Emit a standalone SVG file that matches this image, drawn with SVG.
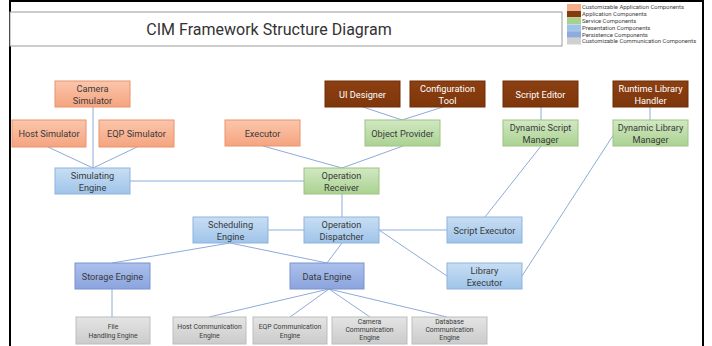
<svg xmlns="http://www.w3.org/2000/svg" width="712" height="346" viewBox="0 0 712 346">
<defs>
<linearGradient id="gOr" x1="0" y1="0" x2="0" y2="1"><stop offset="0" stop-color="#fbc6ab"/><stop offset="1" stop-color="#f5a47f"/></linearGradient>
<linearGradient id="gBr" x1="0" y1="0" x2="0" y2="1"><stop offset="0" stop-color="#8c4012"/><stop offset="1" stop-color="#7e360b"/></linearGradient>
<linearGradient id="gGr" x1="0" y1="0" x2="0" y2="1"><stop offset="0" stop-color="#d2e8c3"/><stop offset="1" stop-color="#aad291"/></linearGradient>
<linearGradient id="gLb" x1="0" y1="0" x2="0" y2="1"><stop offset="0" stop-color="#c8def3"/><stop offset="1" stop-color="#9fc4ea"/></linearGradient>
<linearGradient id="gPb" x1="0" y1="0" x2="0" y2="1"><stop offset="0" stop-color="#acc0ec"/><stop offset="1" stop-color="#8ba4de"/></linearGradient>
<linearGradient id="gGy" x1="0" y1="0" x2="0" y2="1"><stop offset="0" stop-color="#e4e4e4"/><stop offset="1" stop-color="#cbcbcb"/></linearGradient>
</defs>
<style>
text{font-family:Roboto,"Open Sans",sans-serif;fill:#3a3a3a;text-anchor:middle}
.t{font-size:9.2px}
.s{font-size:6.8px}
.w{fill:#ffffff}
.lg{font-size:5.9px;text-anchor:start;fill:#404040}
.or{fill:url(#gOr);stroke:#e8946c;stroke-width:1}
.br{fill:url(#gBr);stroke:#6e2c07;stroke-width:1}
.gr{fill:url(#gGr);stroke:#9cc482;stroke-width:1}
.lb{fill:url(#gLb);stroke:#8db3dd;stroke-width:1}
.pb{fill:url(#gPb);stroke:#7b93cd;stroke-width:1}
.gy{fill:url(#gGy);stroke:#bdbdbd;stroke-width:1}
#connectors line{stroke:#8eaadb;stroke-width:1}
</style>
<rect x="0" y="0" width="712" height="346" fill="#ffffff"/>
<rect x="10" y="1" width="693" height="360" fill="#ffffff" stroke="#000000" stroke-width="2"/>
<g id="title">
<rect x="10" y="12" width="552" height="34" fill="#ffffff" stroke="#9a9a9a" stroke-width="1"/>
<text x="269" y="35" style="font-size:16px;fill:#333">CIM Framework Structure Diagram</text>
</g>
<g id="legend">
<rect x="567" y="4" width="14" height="6.5" fill="#f7ad8a"/>
<rect x="567" y="10.8" width="14" height="6.5" fill="#843c0c"/>
<rect x="567" y="17.6" width="14" height="6.5" fill="#a9d18e"/>
<rect x="567" y="24.4" width="14" height="6.5" fill="#9dc3e6"/>
<rect x="567" y="31.2" width="14" height="6.5" fill="#8faadc"/>
<rect x="567" y="38" width="14" height="6.5" fill="#d0d0d0"/>
<text class="lg" x="582" y="9.3">Customizable Application Components</text>
<text class="lg" x="582" y="16.1">Application Components</text>
<text class="lg" x="582" y="22.9">Service Components</text>
<text class="lg" x="582" y="29.7">Presentation Components</text>
<text class="lg" x="582" y="36.5">Persistence Components</text>
<text class="lg" x="582" y="43.3">Customizable Communication Components</text>
</g>
<g id="connectors">
<line x1="93" y1="107" x2="93" y2="168"/>
<line x1="48" y1="147" x2="93" y2="168"/>
<line x1="137" y1="147" x2="93" y2="168"/>
<line x1="130" y1="181" x2="304" y2="181"/>
<line x1="263" y1="146" x2="342" y2="168"/>
<line x1="403" y1="146" x2="342" y2="168"/>
<line x1="363" y1="107" x2="402" y2="120"/>
<line x1="443" y1="107" x2="402" y2="120"/>
<line x1="541" y1="107" x2="541" y2="120"/>
<line x1="650" y1="107" x2="650" y2="120"/>
<line x1="342" y1="194" x2="342" y2="217"/>
<line x1="268" y1="230" x2="304" y2="230"/>
<line x1="379" y1="230" x2="447" y2="230"/>
<line x1="379" y1="230" x2="447" y2="276"/>
<line x1="541" y1="146" x2="485" y2="217"/>
<line x1="614" y1="134" x2="522" y2="276"/>
<line x1="230" y1="243" x2="112" y2="263"/>
<line x1="230" y1="243" x2="327" y2="263"/>
<line x1="342" y1="243" x2="327" y2="263"/>
<line x1="112" y1="289" x2="112" y2="317"/>
<line x1="329" y1="289" x2="209" y2="317"/>
<line x1="329" y1="289" x2="290" y2="317"/>
<line x1="329" y1="289" x2="370" y2="317"/>
<line x1="329" y1="289" x2="447" y2="317"/>
</g>
<g id="camera-simulator"><rect class="or" x="55" y="81" width="75" height="26"/><text class="t" x="92.5" y="91.5">Camera</text><text class="t" x="92.5" y="103.5">Simulator</text></g>
<g id="host-simulator"><rect class="or" x="12" y="120" width="74" height="27"/><text class="t" x="49" y="137">Host Simulator</text></g>
<g id="eqp-simulator"><rect class="or" x="99" y="120" width="75" height="27"/><text class="t" x="136.5" y="137">EQP Simulator</text></g>
<g id="simulating-engine"><rect class="lb" x="55" y="168" width="75" height="26"/><text class="t" x="92.5" y="178.5">Simulating</text><text class="t" x="92.5" y="190.5">Engine</text></g>
<g id="executor"><rect class="or" x="225" y="120" width="75" height="26"/><text class="t" x="262.5" y="136.5">Executor</text></g>
<g id="ui-designer"><rect class="br" x="325" y="81" width="75" height="26"/><text class="t w" x="362.5" y="97.5">UI Designer</text></g>
<g id="configuration-tool"><rect class="br" x="410" y="81" width="75" height="26"/><text class="t w" x="447.5" y="91.5">Configuration</text><text class="t w" x="447.5" y="103.5">Tool</text></g>
<g id="object-provider"><rect class="gr" x="365" y="120" width="75" height="26"/><text class="t" x="402.5" y="136.5">Object Provider</text></g>
<g id="operation-receiver"><rect class="gr" x="304" y="168" width="75" height="26"/><text class="t" x="341.5" y="178.5">Operation</text><text class="t" x="341.5" y="190.5">Receiver</text></g>
<g id="script-editor"><rect class="br" x="503" y="81" width="75" height="26"/><text class="t w" x="540.5" y="97.5">Script Editor</text></g>
<g id="dynamic-script-manager"><rect class="gr" x="503" y="120" width="75" height="26"/><text class="t" x="540.5" y="130.5">Dynamic Script</text><text class="t" x="540.5" y="142.5">Manager</text></g>
<g id="runtime-library-handler"><rect class="br" x="613" y="81" width="75" height="26"/><text class="t w" x="650.5" y="91.5">Runtime Library</text><text class="t w" x="650.5" y="103.5">Handler</text></g>
<g id="dynamic-library-manager"><rect class="gr" x="613" y="120" width="75" height="26"/><text class="t" x="650.5" y="130.5">Dynamic Library</text><text class="t" x="650.5" y="142.5">Manager</text></g>
<g id="scheduling-engine"><rect class="lb" x="193" y="217" width="75" height="26"/><text class="t" x="230.5" y="227.5">Scheduling</text><text class="t" x="230.5" y="239.5">Engine</text></g>
<g id="operation-dispatcher"><rect class="lb" x="304" y="217" width="75" height="26"/><text class="t" x="341.5" y="227.5">Operation</text><text class="t" x="341.5" y="239.5">Dispatcher</text></g>
<g id="script-executor"><rect class="lb" x="447" y="217" width="75" height="26"/><text class="t" x="484.5" y="233.5">Script Executor</text></g>
<g id="library-executor"><rect class="lb" x="447" y="263" width="75" height="26"/><text class="t" x="484.5" y="273.5">Library</text><text class="t" x="484.5" y="285.5">Executor</text></g>
<g id="storage-engine"><rect class="pb" x="75" y="263" width="75" height="26"/><text class="t" x="112.5" y="279.5">Storage Engine</text></g>
<g id="data-engine"><rect class="pb" x="290" y="263" width="74" height="26"/><text class="t" x="327" y="279.5">Data Engine</text></g>
<g id="file-handling-engine"><rect class="gy" x="76" y="317" width="74" height="27"/><text class="s" x="113" y="328.5">File</text><text class="s" x="113" y="337.5">Handling Engine</text></g>
<g id="host-communication-engine"><rect class="gy" x="173" y="317" width="73" height="27"/><text class="s" x="209.5" y="328.5">Host Communication</text><text class="s" x="209.5" y="337.5">Engine</text></g>
<g id="eqp-communication-engine"><rect class="gy" x="253" y="317" width="74" height="27"/><text class="s" x="290" y="328.5">EQP Communication</text><text class="s" x="290" y="337.5">Engine</text></g>
<g id="camera-communication-engine"><rect class="gy" x="332" y="317" width="75" height="27"/><text class="s" x="369.5" y="324.3">Camera</text><text class="s" x="369.5" y="332">Communication</text><text class="s" x="369.5" y="339.7">Engine</text></g>
<g id="database-communication-engine"><rect class="gy" x="412" y="317" width="75" height="27"/><text class="s" x="449.5" y="324.3">Database</text><text class="s" x="449.5" y="332">Communication</text><text class="s" x="449.5" y="339.7">Engine</text></g>
</svg>
